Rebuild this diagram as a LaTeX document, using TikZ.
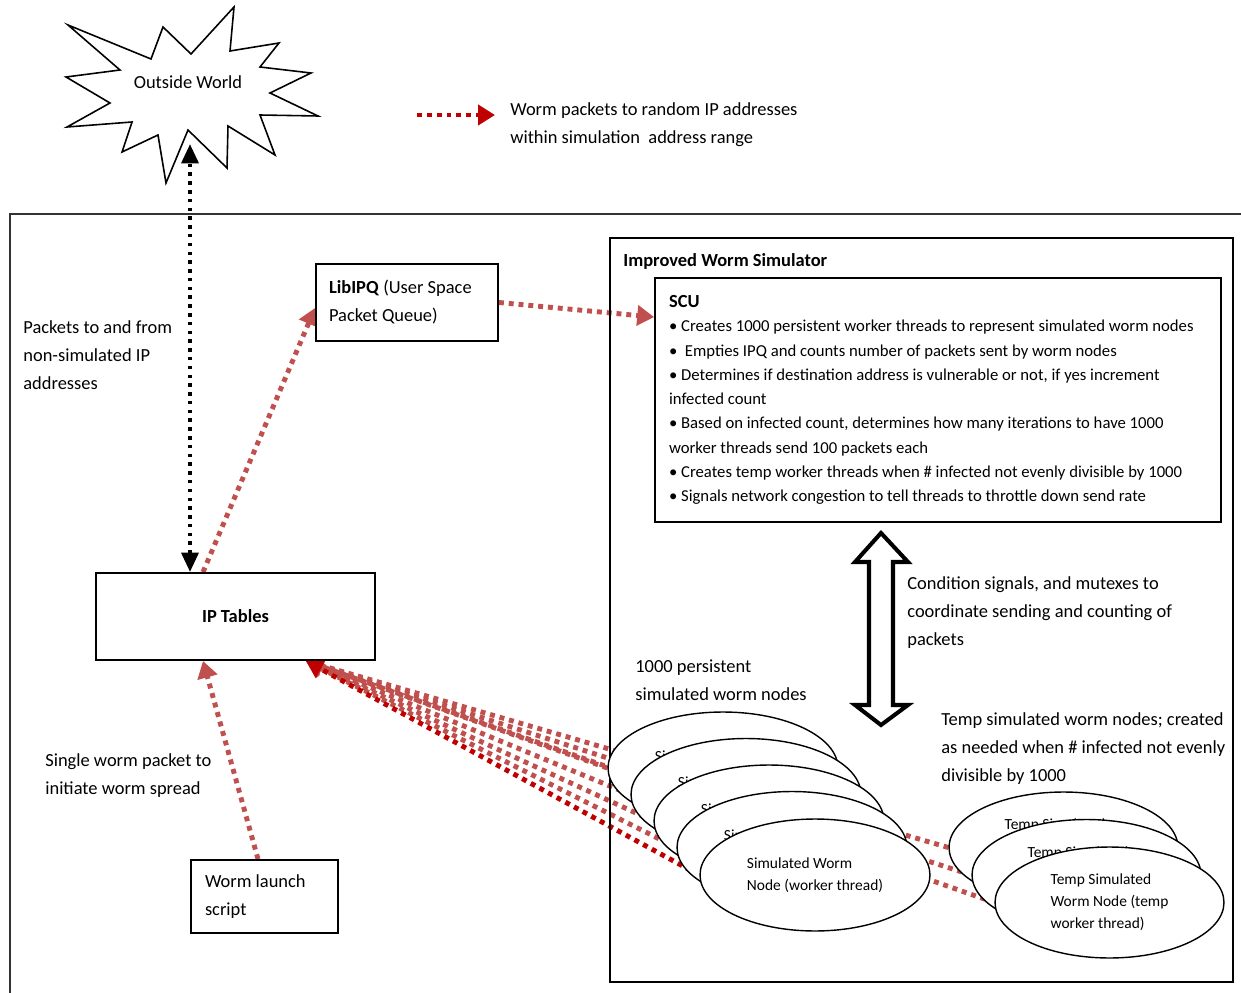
\documentclass[tikz,border=0pt]{standalone}
\usepackage{fontspec}
\setmainfont{Carlito}
\usetikzlibrary{arrows.meta,shapes.geometric,calc,backgrounds}

\definecolor{pktred}{HTML}{C0504D}
\definecolor{wormred}{HTML}{C00000}

\tikzset{
	box/.style={draw, line width=1.1pt, fill=white, inner sep=0pt,
		font=\fontsize{10.5pt}{15.9pt}\selectfont},
	blob/.style={draw, ellipse, line width=0.8pt, fill=white, inner sep=0pt,
		minimum width=4.6cm, minimum height=2.24cm, align=left,
		font=\fontsize{8.8pt}{12.5pt}\selectfont},
	note/.style={anchor=west, align=left, inner sep=0pt,
		font=\fontsize{10.5pt}{15.9pt}\selectfont},
	pkt/.style={color=pktred, line width=2.8pt, dash pattern=on 2.8pt off 2.8pt,
		-{Triangle[length=9.6pt,width=11.3pt]}},
	wormpkt/.style={pkt, color=wormred},
	extpkt/.style={color=black, line width=2.3pt, dash pattern=on 2pt off 3pt,
		{Triangle[length=11pt,width=9.5pt]}-{Triangle[length=11pt,width=9.5pt]}}
}

\begin{document}
\begin{tikzpicture}[x=0.02cm, y=-0.02cm]
	%%%%% START %%%%%
	\useasboundingbox (0,0) rectangle (1241,993);
	
	% outside world
	\draw[line width=0.9pt, fill=white] (68,25) -- (151,59) -- (163,27) -- (191,54) -- (234,7) -- (230,51)
		-- (279,43) -- (260,67) -- (311,73) -- (270,93) -- (318,116) -- (260,115) -- (275,155)
		-- (228,126) -- (227,168) -- (188,130) -- (166,183) -- (158,135) -- (122,152) -- (132,122)
		-- (67,127) -- (110,103) -- (66,77) -- (120,70) -- cycle;
	\node[note, anchor=center] (world) at (188,82) {Outside World};
	\coordinate (burstfoot) at (190,144);
	
	% legend
	\coordinate (legtail) at (417,115);
	\coordinate (leghead) at (495,115);
	\draw[wormpkt] (legtail) -- (leghead);
	\node[note] (legend) at (510,124.5) {Worm packets to random IP addresses\\within simulation\ \ address range};
	
	% host frame
	\draw[line width=1pt, color=black!80] (10,993) -- (10,214) -- (1241,214);
	
	\node[note] (extnote) at (23,355) {Packets to and from\\non-simulated IP\\addresses};
	\node[box, minimum width=5.58cm, minimum height=1.74cm] (ipt) at (235.5,616.5) {\textbf{IP Tables}};
	\node[box, minimum width=3.64cm, minimum height=1.54cm, text width=3.12cm, align=flush left] (ipq) at (407,302.5)
		{\textbf{LibIPQ} (User Space\\Packet Queue)};
	\node[note] (launchnote) at (45,775.5) {Single worm packet to\\initiate worm spread};
	\node[box, minimum width=2.94cm, minimum height=1.46cm, text width=2.38cm, align=flush left] (wls) at (264.5,896.5)
		{Worm launch\\script};
	
	% improved worm simulator
	\draw[line width=1.1pt] (610,238) rectangle (1233,982);
	\node[note] (iws) at (623,261) {\textbf{Improved Worm Simulator}};
	\node[box, minimum width=11.32cm, minimum height=4.88cm, text width=10.76cm, align=flush left,
		font=\fontsize{9.5pt}{13.8pt}\selectfont] (scu) at (938,400)
		{{\fontsize{10.5pt}{13.8pt}\selectfont\textbf{SCU}}\\
		• Creates 1000 persistent worker threads to represent simulated worm nodes\\
		•\ \ Empties IPQ and counts number of packets sent by worm nodes\\
		• Determines if destination address is vulnerable or not, if yes increment\\
		infected count\\
		• Based on infected count, determines how many iterations to have 1000\\
		worker threads send 100 packets each\\
		• Creates temp worker threads when \# infected not evenly divisible by 1000\\
		• Signals network congestion to tell threads to throttle down send rate};
	
	\draw[line width=2.3pt, fill=white] (881,533) -- (908,562) -- (893,562) -- (893,705) -- (908,705)
		-- (881,725) -- (855,705) -- (869,705) -- (869,562) -- (855,562) -- cycle;
	\node[note] (syncnote) at (907,612.5) {Condition signals, and mutexes to\\coordinate sending and counting of\\packets};
	\node[note] (persnote) at (635,680) {1000 persistent\\simulated worm nodes};
	\node[note] (tempnote) at (941,748.5) {Temp simulated worm nodes; created\\as needed when \# infected not evenly\\divisible by 1000};
	
	\node[blob] (e1) at (723,768) {Simulated Worm\\Node (worker thread)};
	\node[blob] (e2) at (746,794.5) {Simulated Worm\\Node (worker thread)};
	\node[blob] (e3) at (769,821) {Simulated Worm\\Node (worker thread)};
	\node[blob] (e4) at (792,847.5) {Simulated Worm\\Node (worker thread)};
	\node[blob] (e5) at (815,875) {Simulated Worm\\Node (worker thread)};
	
	\node[blob, minimum width=4.58cm, minimum height=2.22cm] (t1) at (1063.5,847.5) {Temp Simulated\\Worm Node (temp\\worker thread)};
	\node[blob, minimum width=4.58cm, minimum height=2.22cm] (t2) at (1086.5,875) {Temp Simulated\\Worm Node (temp\\worker thread)};
	\node[blob, minimum width=4.58cm, minimum height=2.22cm] (t3) at (1109.5,902.5) {Temp Simulated\\Worm Node (temp\\worker thread)};
	
	% packet flows
	\coordinate (hit) at ($(ipt.south east)+(-70,0)$);
	\begin{scope}[on background layer]
		\draw[extpkt] ($(ipt.north)+(-45.5,0)$) -- (burstfoot);
		\draw[pkt] ($(ipt.north)+(-32.5,0)$) -- ($(ipq.west)+(0,5.5)$);
		\draw[pkt] (ipq.east) -- ($(scu.north west)+(0,40)$);
		\draw[pkt] ($(wls.north)+(-6.5,0)$) -- ($(ipt.south)+(-32.5,0)$);
		\draw[pkt] (t1.west) -- (hit);
		\draw[pkt] (t2.west) -- (hit);
		\draw[pkt] (t3.west) -- (hit);
		\draw[pkt] (e1.west) -- (hit);
		\draw[pkt] (e2.west) -- (hit);
		\draw[pkt] (e3.west) -- (hit);
		\draw[pkt] (e4.west) -- (hit);
		\draw[wormpkt] (e5.west) -- (hit);
	\end{scope}
	
	%%%%% END %%%%%
\end{tikzpicture}
\end{document}
